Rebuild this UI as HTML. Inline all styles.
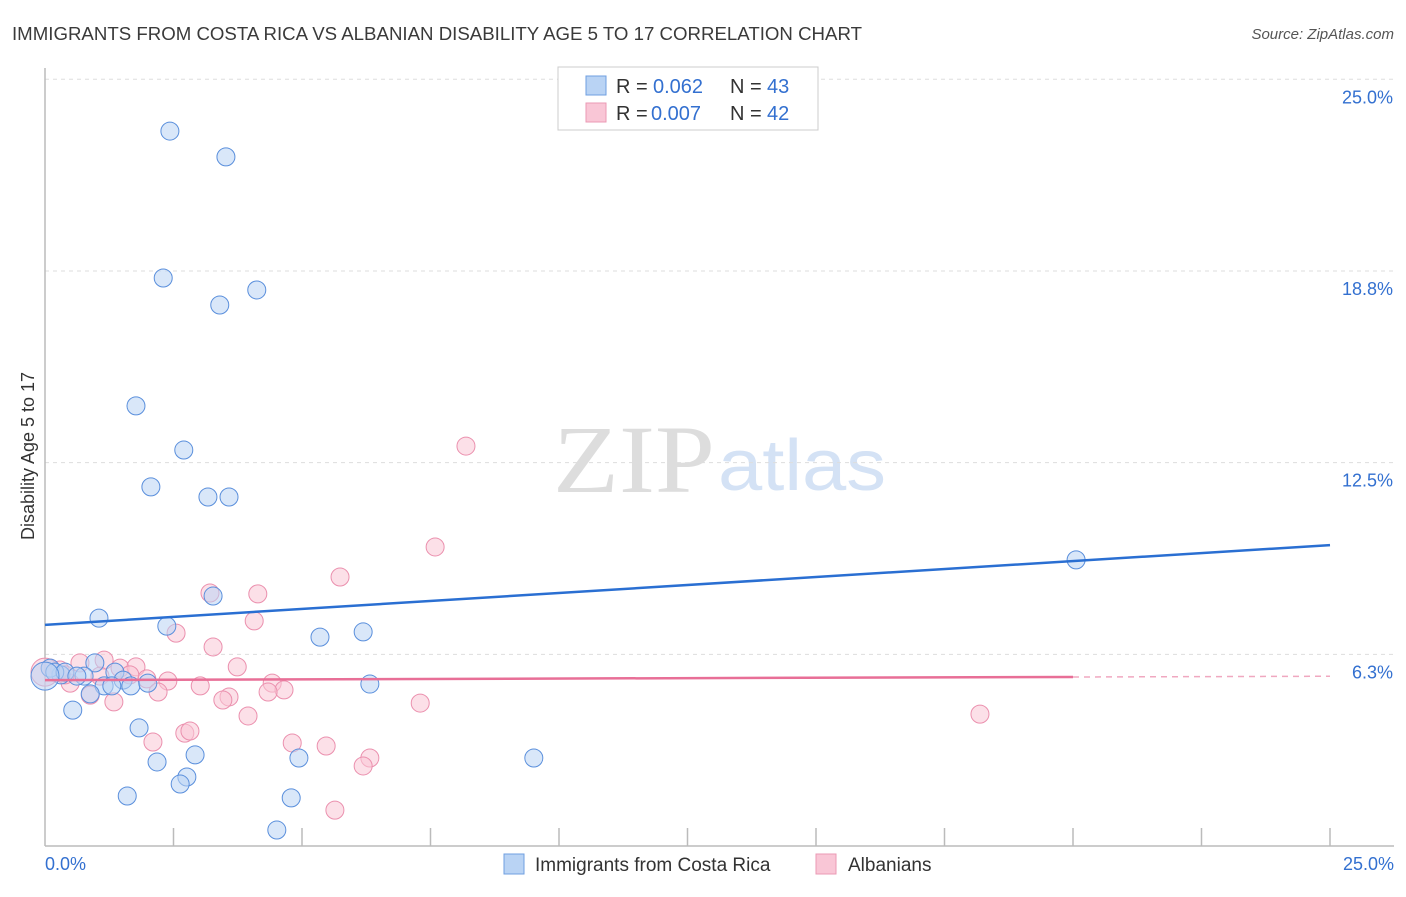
<!DOCTYPE html>
<html><head><meta charset="utf-8"><style>
body{margin:0;background:#fff}
</style></head><body>
<svg id="chart" width="1406" height="892" viewBox="0 0 1406 892" font-family="Liberation Sans, sans-serif">
<text x="12" y="40" font-size="18" fill="#3a3a3a" textLength="850" lengthAdjust="spacingAndGlyphs">IMMIGRANTS FROM COSTA RICA VS ALBANIAN DISABILITY AGE 5 TO 17 CORRELATION CHART</text>
<text x="1394" y="39" font-size="15" font-style="italic" fill="#555" text-anchor="end">Source: ZipAtlas.com</text>
<g>
<text x="553" y="492" font-size="96" font-family="Liberation Serif, serif" fill="#ddd" textLength="162" lengthAdjust="spacingAndGlyphs">ZIP</text>
<text x="718" y="490" font-size="72" fill="#d4e2f5" textLength="168" lengthAdjust="spacingAndGlyphs">atlas</text>
</g>
<g id="grid"></g>
<g id="axes"></g>
<g id="pts"></g>
<g id="trend"></g>
<g>
<rect x="558" y="67" width="260" height="63" fill="#fff" stroke="#ccc"/>
<rect x="586" y="76" width="20" height="19" fill="#b9d3f4" stroke="#6f9fe0"/>
<rect x="586" y="103" width="20" height="19" fill="#f9c6d6" stroke="#eb9ab4"/>
<text x="616" y="93" font-size="20" fill="#333">R =</text>
<text x="653" y="93" font-size="20" fill="#3370d0">0.062</text>
<text x="730" y="93" font-size="20" fill="#333">N =</text>
<text x="767" y="93" font-size="20" fill="#3370d0">43</text>
<text x="616" y="120" font-size="20" fill="#333">R =</text>
<text x="651" y="120" font-size="20" fill="#3370d0">0.007</text>
<text x="730" y="120" font-size="20" fill="#333">N =</text>
<text x="767" y="120" font-size="20" fill="#3370d0">42</text>
</g>
<g>
<rect x="504" y="854" width="20" height="20" fill="#b9d3f4" stroke="#6f9fe0"/>
<text x="535" y="871" font-size="19" fill="#333">Immigrants from Costa Rica</text>
<rect x="816" y="854" width="20" height="20" fill="#f9c6d6" stroke="#eb9ab4"/>
<text x="848" y="871" font-size="19" fill="#333">Albanians</text>
</g>
<text transform="translate(34,456) rotate(-90)" font-size="18" fill="#333" text-anchor="middle">Disability Age 5 to 17</text>
<text x="45" y="870" font-size="18" fill="#3370d0">0.0%</text>
<text x="1394" y="870" font-size="18" fill="#3370d0" text-anchor="end">25.0%</text>
</svg>
<script>
const yTicks=[25,18.75,12.5,6.25];
const yTickLabels=["25.0%","18.8%","12.5%","6.3%"];
const blueX=[2.43,3.52,2.30,4.12,3.40,1.77,2.70,2.06,3.17,3.58,20.06,3.27,1.05,2.37,5.35,6.19,0.97,0.76,1.36,1.52,1.67,2.00,1.15,1.30,0.31,0.10,0.88,6.32,0.54,1.83,2.92,2.18,4.94,9.51,2.76,2.63,1.60,4.79,4.51,0.19,0.39,0,0.62];
const blueY=[23.31,22.47,18.52,18.13,17.64,14.35,12.91,11.71,11.38,11.38,9.33,8.15,7.43,7.17,6.81,6.98,5.97,5.54,5.67,5.41,5.22,5.31,5.22,5.22,5.58,5.80,4.96,5.28,4.43,3.85,2.97,2.74,2.87,2.87,2.25,2.02,1.63,1.57,0.52,5.67,5.67,5.54,5.54];
const pinkX=[8.19,7.59,5.74,3.21,4.14,4.07,2.55,3.27,1.15,0.68,1.46,1.77,3.74,2.39,1.98,4.42,4.65,4.34,3.02,3.58,3.46,2.20,1.34,0.88,0.49,7.30,18.19,3.95,2.10,4.81,5.47,2.72,2.82,6.32,6.19,5.64,0.10,0.29,0,1.07,1.65,0.39];
const pinkY=[13.04,9.75,8.77,8.25,8.22,7.34,6.94,6.49,6.06,5.97,5.80,5.84,5.84,5.38,5.45,5.31,5.09,5.02,5.22,4.86,4.76,5.02,4.70,4.92,5.31,4.66,4.30,4.24,3.39,3.36,3.26,3.68,3.75,2.87,2.61,1.17,5.80,5.74,5.67,5.54,5.58,5.58];
const blueTrend=[7.21,9.81];
const pinkTrend=[5.41,5.51];
const X0=45,X1=1330,Y0=846,PPY=30.67;
const sx=v=>X0+(X1-X0)*v/25;
const sy=v=>Y0-v*PPY;
const NS="http://www.w3.org/2000/svg";
function mk(t,a,p){const e=document.createElementNS(NS,t);for(const k in a)e.setAttribute(k,a[k]);p.appendChild(e);return e;}
const grid=document.getElementById('grid'),axes=document.getElementById('axes'),pts=document.getElementById('pts'),trend=document.getElementById('trend');
yTicks.forEach((t,i)=>{
 const l=mk('line',{x1:X0,x2:1394,y1:sy(t),y2:sy(t),stroke:'#ddd','stroke-dasharray':'4,4'},grid);
 
 
 const tx=mk('text',{x:1393,y:sy(t)+24,'font-size':18,fill:'#3370d0','text-anchor':'end'},axes);
 tx.textContent=yTickLabels[i];
 
 
});
const ax=mk('line',{x1:X0,x2:X0,y1:68,y2:846,stroke:'#bbb','stroke-width':1.5},axes);


const bx=mk('line',{x1:X0,x2:1394,y1:846,y2:846,stroke:'#bbb','stroke-width':1.5},axes);


for(let i=1;i<=10;i++){const x=sx(i*2.5);const t=mk('line',{x1:x,x2:x,y1:828,y2:846,stroke:'#bbb','stroke-width':1.5},axes);
 
 }
function dots(X,Y,fill,stroke,name){X.forEach((v,i)=>{const c=mk('circle',{cx:sx(v),cy:sy(Y[i]),r:(v===0?14:9),fill:fill,'fill-opacity':0.55,stroke:stroke,'stroke-width':1},pts);
 
 });}
dots(pinkX,pinkY,'#f9c6d6','#eb90ae','albanian-point');
dots(blueX,blueY,'#b9d3f4','#5a8fdc','costa-rica-point');
const bl=mk('line',{x1:sx(0),y1:sy(blueTrend[0]),x2:sx(25),y2:sy(blueTrend[1]),stroke:'#2a6fd2','stroke-width':2.5},trend);


const pl=mk('line',{x1:sx(0),y1:sy(pinkTrend[0]),x2:sx(20),y2:sy(pinkTrend[1]),stroke:'#e86f97','stroke-width':2.5},trend);


const pe=pinkTrend[0]+(pinkTrend[1]-pinkTrend[0])*25/20;
const pd=mk('line',{x1:sx(20),y1:sy(pinkTrend[1]),x2:sx(25),y2:sy(pe),stroke:'#f0a8c0','stroke-width':1.5,'stroke-dasharray':'6,5'},trend);


</script>
</body></html>
